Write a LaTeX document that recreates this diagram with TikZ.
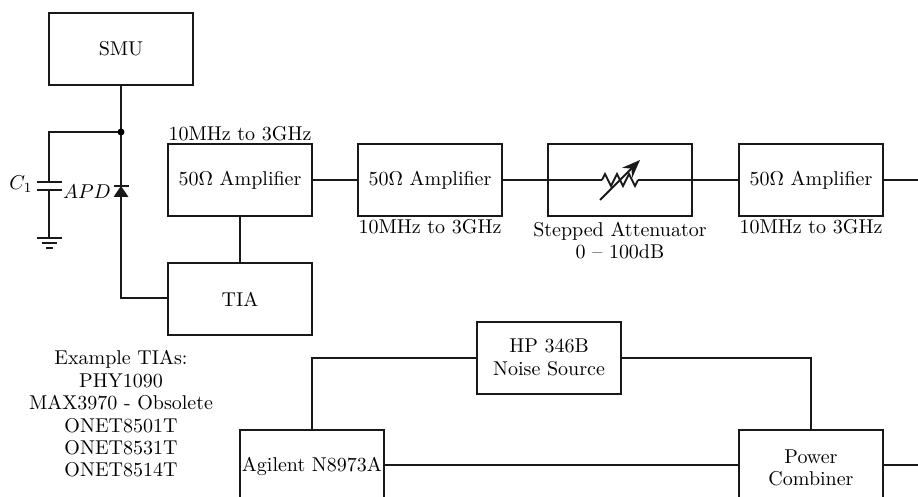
\documentclass[tikz,border=0pt]{standalone}
\usetikzlibrary{arrows.meta}
\tikzset{
  blockbox/.style={draw=black!90,line width=1pt,minimum width=72pt,minimum height=36pt,inner sep=0pt,align=center,fill=white,font=\fontsize{10}{11.2}\selectfont},
  wire/.style={draw=black!90,line width=1pt},
  lbl/.style={inner sep=0pt,align=center,font=\fontsize{10}{11.2}\selectfont}
}
\begin{document}
\begin{tikzpicture}[x=0.5pt,y=-0.5pt]
\useasboundingbox (0,0) rectangle (918,497);
\clip (0,0) rectangle (918,497);
\node[blockbox] (smu) at (121,49) {SMU};
\node[blockbox] (amp1) at (240,180) {50$\Omega$ Amplifier};
\node[blockbox] (amp2) at (430,180) {50$\Omega$ Amplifier};
\node[blockbox] (att) at (620,180) {};
\node[blockbox] (amp3) at (811,180) {50$\Omega$ Amplifier};
\node[blockbox] (tia) at (240,299) {TIA};
\node[blockbox] (hp) at (549,358) {\raisebox{1pt}{HP 346B}\\\raisebox{1pt}{Noise Source}};
\node[blockbox] (agi) at (312,466) {Agilent N8973A};
\node[blockbox,minimum height=38pt] (comb) at (811,468) {Power\\Combiner};
\coordinate (edgetop) at (918,180);
\coordinate (combl) at (739,465);
\coordinate (combr) at (883,465);
\coordinate (agir) at (384,465);
\coordinate (edgebot) at (918,465);
\coordinate (junc) at (121,132);
\coordinate (capc) at (49,132);
\coordinate (captop) at (49,182);
\coordinate (capbot) at (49,190);
\coordinate (gnd) at (49,238);
\coordinate (dtip) at (121,186);
\coordinate (dbase) at (121,197);
\coordinate (rl) at (602,180);
\coordinate (rr) at (638,180);
\coordinate (tial) at (168,298);
% connectors
\draw[wire] (smu.south) -- (junc) -- (dtip);
\draw[wire] (dbase) -- (121,298) -- (tial);
\draw[wire] (junc) -- (capc) -- (captop);
\draw[wire] (capbot) -- (gnd);
\fill[black] (junc) circle (3.5);
\draw[wire] (37,182) -- (62,182);
\draw[wire] (37,190) -- (62,190);
\draw[wire] (37,238) -- (62,238);
\draw[wire] (42,243) -- (57,243);
\draw[wire] (46,248) -- (53,248);
\draw[wire] (113.5,186) -- (128.5,186);
\fill[black!90] (dtip) -- (128.5,197) -- (113.5,197) -- cycle;
\draw[wire] (amp1.east) -- (amp2.west);
\draw[wire] (amp2.east) -- (rl);
\draw[wire,line join=miter] (rl) -- (605,174) -- (611,186) -- (617,174) -- (623,186) -- (629,174) -- (635,186) -- (rr);
\draw[wire] (rr) -- (amp3.west);
\draw[wire,-{Stealth[length=9pt,width=7pt]}] (600,200) -- (640,160);
\draw[wire] (amp3.east) -- (edgetop);
\draw[wire] (amp1.south) -- (tia.north);
\draw[wire] (hp.west) -| (agi.north);
\draw[wire] (hp.east) -| (comb.north);
\draw[wire] (agir) -- (combl);
\draw[wire] (combr) -- (edgebot);
% labels
\node[lbl] (c1) at (21,184) {$C_1$};
\node[lbl] (apd) at (87,192) {$APD$};
\node[lbl] (b1) at (240,134) {10MHz to 3GHz};
\node[lbl] (b2) at (430,227) {10MHz to 3GHz};
\node[lbl] (b3) at (811,227) {10MHz to 3GHz};
\node[lbl] (b4) at (620,240.5) {Stepped Attenuator\\0 -- 100dB};
\node[lbl] (ex) at (121,414) {Example TIAs:\\PHY1090\\MAX3970 - Obsolete\\ONET8501T\\ONET8531T\\ONET8514T};
\end{tikzpicture}
\end{document}
